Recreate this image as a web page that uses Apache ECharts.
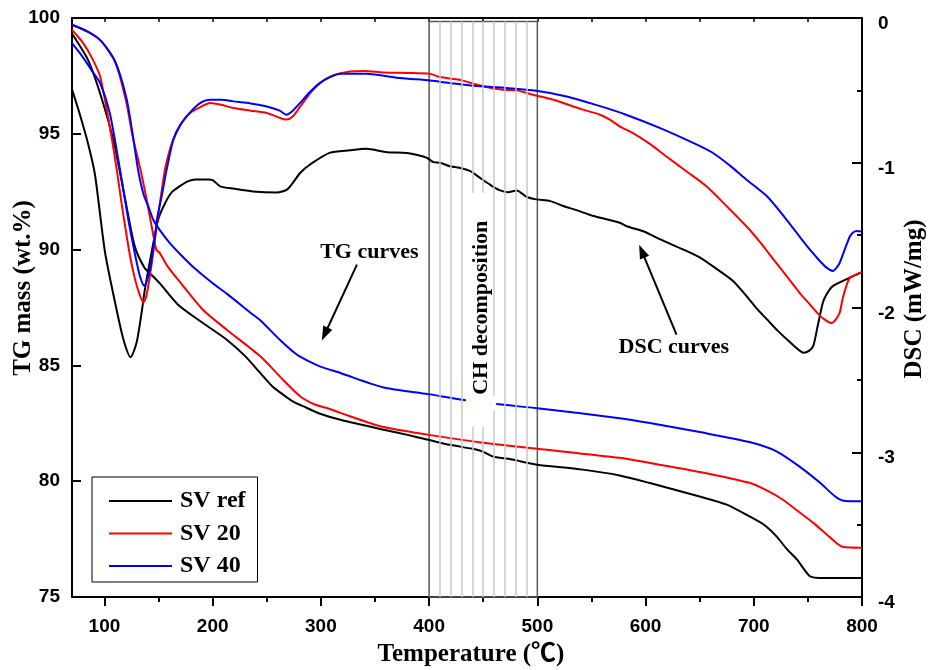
<!DOCTYPE html>
<html><head><meta charset="utf-8">
<script src="https://cdn.jsdelivr.net/npm/echarts@6/dist/echarts.min.js"></script>
<style>html,body{margin:0;padding:0;background:#fff}#c{width:933px;height:670px}</style>
</head><body><div id="c"></div>
<script>
// ---------- data ----------
const seriesNames = ['SV ref', 'SV 20', 'SV 40'];
const seriesColors = ['#000000', '#ff0000', '#0000ff'];
const xTickLabels = [100, 200, 300, 400, 500, 600, 700, 800];
const xMinorTicks = [150, 250, 350, 450, 550, 650, 750];
const xTopTicks = [100, 150, 200, 250, 300, 350, 400, 450, 500, 550, 600, 650, 700, 750, 800];
const chRegion = [400, 500];
const chLines = [410, 420, 430, 440, 450, 460, 470, 480, 490];

// TG curves [T (°C), mass (wt.%)]
const tgRef = [[70,99.32],[85,98.17],[97,96.59],[109,94.57],[119,92.2],[128,90.14],[137,89.22],[145,88.84],[151,88.55],[168,87.62],[191,86.83],[213,86.11],[230,85.4],[244,84.67],[255,84.1],[265,83.74],[274,83.45],[284,83.23],[300,82.9],[318,82.65],[358,82.22],[380,82.0],[400,81.78],[419,81.57],[440,81.4],[449,81.29],[459,81.07],[478,80.93],[490,80.8],[500,80.71],[542,80.5],[576,80.25],[604,79.92],[650,79.34],[675,78.99],[696,78.48],[710,78.1],[721,77.62],[730,77.1],[740,76.61],[748,76.1],[752,75.89],[761,75.82],[800,75.82]];
const tg20 = [[70,99.71],[85,99.4],[97,99.0],[110,98.1],[120,96.4],[126,94.9],[134,93.3],[139,92.15],[144,90.9],[148,89.99],[151,89.86],[158,89.3],[168,88.70],[191,87.40],[213,86.54],[244,85.39],[265,84.38],[281,83.66],[295,83.3],[305,83.17],[318,82.95],[357,82.35],[400,82.0],[450,81.66],[500,81.40],[576,81.01],[604,80.79],[650,80.40],[696,79.93],[712,79.6],[727,79.20],[741,78.7],[755,78.20],[773,77.47],[782,77.17],[800,77.13]];
const tg40 = [[70,99.71],[85,99.4],[97,99.0],[110,98.1],[120,96.6],[126,95.0],[131,93.45],[136,92.4],[140.5,91.87],[145,91.3],[151,90.85],[160,90.3],[170,89.8],[182,89.25],[200,88.55],[213,88.1],[237,87.2],[244,86.95],[262,86.11],[278,85.46],[290,85.15],[299,84.96],[318,84.67],[357,84.06],[399,83.76],[434,83.50],[462,83.33],[500,83.15],[576,82.72],[604,82.51],[650,82.12],[696,81.69],[721,81.29],[742,80.64],[761,79.94],[775,79.35],[782,79.17],[800,79.13]];

// DSC curves [T (°C), DSC (mW/mg)]
const dscRef = [[70.3,-0.50],[77,-0.66],[84.8,-0.867],[91.2,-1.081],[100.5,-1.618],[109.7,-1.962],[117.4,-2.217],[124.2,-2.343],[129.8,-2.238],[134.4,-2.031],[137.4,-1.873],[143.6,-1.618],[149.7,-1.391],[156,-1.28],[162.1,-1.205],[170,-1.16],[177.4,-1.127],[184,-1.115],[196,-1.115],[200,-1.12],[207,-1.163],[220,-1.18],[237,-1.198],[259,-1.205],[269,-1.184],[281,-1.069],[290,-1.012],[308,-0.932],[327,-0.914],[342,-0.904],[361,-0.927],[379,-0.932],[391,-0.950],[398,-0.966],[404,-0.996],[410,-1.0],[419,-1.024],[428,-1.035],[438,-1.058],[447,-1.104],[456,-1.150],[465,-1.189],[473,-1.203],[481,-1.191],[490,-1.235],[499,-1.253],[512,-1.265],[524,-1.299],[536,-1.327],[552,-1.368],[576,-1.414],[582,-1.437],[600,-1.48],[613,-1.528],[635,-1.60],[650,-1.654],[665,-1.73],[681,-1.818],[692,-1.91],[703,-2.01],[712,-2.08],[722,-2.16],[733,-2.237],[741,-2.29],[746,-2.313],[751,-2.30],[755,-2.265],[759,-2.13],[764,-1.962],[768,-1.90],[773,-1.852],[786,-1.804],[800,-1.756]];
const dsc20 = [[70,-0.083],[80,-0.17],[88,-0.27],[96,-0.404],[106,-0.80],[111.3,-1.046],[116,-1.29],[120.5,-1.506],[124,-1.66],[128.2,-1.804],[132,-1.90],[135.9,-1.964],[138,-1.94],[140.5,-1.850],[143,-1.73],[145.1,-1.620],[148,-1.45],[151.3,-1.276],[155.9,-1.046],[160,-0.92],[163.6,-0.840],[170,-0.74],[179,-0.656],[190,-0.61],[197.5,-0.587],[208,-0.60],[219,-0.622],[235,-0.64],[250,-0.656],[262,-0.69],[268,-0.702],[274,-0.68],[281,-0.611],[290,-0.52],[299,-0.450],[310,-0.40],[327,-0.370],[340,-0.366],[358,-0.377],[380,-0.38],[401,-0.386],[410,-0.408],[428,-0.427],[441,-0.454],[453,-0.477],[468,-0.496],[481,-0.50],[496,-0.530],[515,-0.565],[542,-0.633],[558,-0.668],[567,-0.702],[576,-0.748],[588,-0.794],[604,-0.87],[619,-0.955],[638,-1.06],[656,-1.161],[675,-1.30],[693,-1.437],[706,-1.55],[718,-1.666],[730,-1.78],[742,-1.895],[752,-1.98],[761,-2.056],[767,-2.09],[772,-2.107],[776,-2.08],[779.5,-2.033],[782,-1.941],[786,-1.84],[789,-1.792],[792,-1.781],[800,-1.754]];
const dsc40 = [[70,-0.174],[80,-0.27],[88,-0.36],[96,-0.450],[105,-0.66],[114.3,-1.046],[122,-1.391],[126,-1.55],[129.8,-1.689],[133,-1.79],[136.8,-1.850],[139,-1.82],[142.1,-1.735],[146.7,-1.506],[149,-1.37],[152.9,-1.230],[157.5,-1.046],[163.6,-0.840],[170,-0.74],[179,-0.654],[188,-0.59],[197.5,-0.565],[208,-0.565],[219,-0.576],[235,-0.59],[250,-0.611],[262,-0.64],[268,-0.668],[274,-0.64],[281,-0.585],[290,-0.51],[299,-0.450],[308,-0.41],[318,-0.386],[342,-0.386],[373,-0.415],[401,-0.432],[420,-0.45],[441,-0.468],[472,-0.484],[499,-0.503],[527,-0.542],[558,-0.609],[582,-0.668],[613,-0.759],[644,-0.863],[662,-0.931],[678,-1.02],[693,-1.115],[712,-1.230],[730,-1.391],[749,-1.575],[760,-1.67],[767,-1.723],[773,-1.747],[777,-1.72],[779.5,-1.689],[784,-1.60],[789,-1.506],[792,-1.48],[795,-1.471],[800,-1.475]];

// annotations in data coordinates (T, TG)
const tgArrow = {tail: [333.3, 89.35], tip: [300.9, 86.08]};
const dscArrow = {tail: [628.6, 86.33], tip: [594.1, 90.21]};
const tgLabelPos = [344.8, 89.89];
const dscLabelPos = [626.1, 85.76];
const chLabelPos = [448.3, 87.49];

// ---------- chart ----------
const serif = '"Liberation Serif", "Times New Roman", serif';
const serifBold = 'bold 25px "Liberation Serif", "Times New Roman", "Noto Sans CJK SC", serif';
const sans = '"Liberation Sans", Arial, sans-serif';
const chart = echarts.init(document.getElementById('c'), null, {renderer: 'canvas'});

function lineSeries(name, data, yIdx, color) {
  return {
    type: 'line', name: name, data: data, xAxisIndex: 0, yAxisIndex: yIdx,
    symbol: 'none', smooth: 0.25, z: 3,
    lineStyle: {color: color, width: 2}, itemStyle: {color: color},
    emphasis: {disabled: true}, silent: true
  };
}

const markLines = chLines.map(v => [{coord: [v, 75]}, {coord: [v, 99.85]}]);

const option = {
  animation: false,
  backgroundColor: '#fff',
  grid: {left: 72, right: 71, top: 18, bottom: 73, containLabel: false},
  legend: {
    data: seriesNames, orient: 'vertical', left: 92, top: 477,
    icon: 'rect', itemWidth: 63, itemHeight: 2,
    padding: [12, 12, 4, 17], itemGap: 8.5,
    borderColor: '#000', borderWidth: 1, backgroundColor: '#fff',
    selectedMode: false,
    textStyle: {fontFamily: serif, fontWeight: 'bold', fontSize: 24, color: '#000', lineHeight: 24, padding: [0, 0, 0, 3]}
  },
  xAxis: [
    {type: 'value', min: 70, max: 800, position: 'bottom',
      axisLine: {show: true, onZero: false, lineStyle: {color: '#000', width: 2}},
      axisTick: {show: true, customValues: xTickLabels, length: 9, lineStyle: {color: '#000', width: 2}},
      axisLabel: {customValues: xTickLabels, margin: 20, color: '#000', fontFamily: sans, fontWeight: 'bold', fontSize: 19},
      splitLine: {show: false}},
    {type: 'value', min: 70, max: 800, position: 'bottom',
      axisLine: {show: false, onZero: false},
      axisTick: {show: true, customValues: xMinorTicks, length: 5, lineStyle: {color: '#000', width: 2}},
      axisLabel: {show: false}, splitLine: {show: false}},
    {type: 'value', min: 70, max: 800, position: 'top',
      axisLine: {show: true, onZero: false, lineStyle: {color: '#000', width: 2}},
      axisTick: {show: true, inside: true, customValues: xTopTicks, length: 4, lineStyle: {color: '#000', width: 1.5}},
      axisLabel: {show: false}, splitLine: {show: false}}
  ],
  yAxis: [
    {type: 'value', min: 75, max: 100, interval: 5, position: 'left',
      axisLine: {show: true, onZero: false, lineStyle: {color: '#000', width: 2}},
      axisTick: {show: true, inside: true, length: 9, lineStyle: {color: '#000', width: 2}},
      axisLabel: {margin: 12, color: '#000', fontFamily: sans, fontWeight: 'bold', fontSize: 19},
      splitLine: {show: false}},
    {type: 'value', min: -4, max: 0, interval: 1, position: 'right',
      axisLine: {show: true, onZero: false, lineStyle: {color: '#000', width: 2}},
      axisTick: {show: true, inside: true, length: 10, lineStyle: {color: '#000', width: 2}},
      minorTick: {show: true, splitNumber: 2, length: 5, lineStyle: {color: '#000', width: 2}},
      axisLabel: {margin: 16, color: '#000', fontFamily: sans, fontWeight: 'bold', fontSize: 19, verticalAlign: 'top', lineHeight: 12},
      splitLine: {show: false}}
  ],
  series: [
    {type: 'line', name: '__ch', data: [], xAxisIndex: 0, yAxisIndex: 0, z: 1, silent: true,
      markArea: {silent: true, itemStyle: {color: 'rgba(0,0,0,0)', borderColor: '#5a5a5a', borderWidth: 1.5},
        data: [[{coord: [chRegion[0], 75]}, {coord: [chRegion[1], 99.85]}]]},
      markLine: {silent: true, symbol: ['none', 'none'], label: {show: false},
        lineStyle: {color: '#c8c8c8', width: 1.5, type: 'solid'}, data: markLines}},
    lineSeries(seriesNames[0], tgRef, 0, seriesColors[0]),
    lineSeries(seriesNames[0], dscRef, 1, seriesColors[0]),
    lineSeries(seriesNames[1], tg20, 0, seriesColors[1]),
    lineSeries(seriesNames[1], dsc20, 1, seriesColors[1]),
    lineSeries(seriesNames[2], tg40, 0, seriesColors[2]),
    lineSeries(seriesNames[2], dsc40, 1, seriesColors[2])
  ]
};
chart.setOption(option);

// ---------- annotations ----------
const P = p => chart.convertToPixel({xAxisIndex: 0, yAxisIndex: 0}, p);
function arrow(tailD, tipD) {
  const [x1, y1] = P(tailD), [x2, y2] = P(tipD);
  const dx = x2 - x1, dy = y2 - y1, L = Math.hypot(dx, dy);
  const ux = dx / L, uy = dy / L, hl = 14, hw = 5;
  const bx = x2 - ux * hl, by = y2 - uy * hl, px = -uy, py = ux;
  return [
    {type: 'line', z: 50, shape: {x1: x1, y1: y1, x2: bx + ux * 2, y2: by + uy * 2}, style: {stroke: '#000', lineWidth: 2}},
    {type: 'polygon', z: 50, shape: {points: [[x2, y2], [bx + px * hw, by + py * hw], [bx - px * hw, by - py * hw]]}, style: {fill: '#000'}}
  ];
}
function txt(x, y, text, font, rot) {
  return {type: 'text', x: x, y: y, rotation: rot || 0, z: 60,
    style: {text: text, x: 0, y: 0, font: font, fill: '#000', align: 'center', verticalAlign: 'middle', textAlign: 'center', textVerticalAlign: 'middle'}};
}
const r1a = P([434, 92.46]), r1b = P([457, 82.35]);
const r2a = P([457, 83.7]), r2b = P([462, 83.05]);
const chP = P(chLabelPos), tgP = P(tgLabelPos), dsP = P(dscLabelPos);
const labelFont = 'bold 22px ' + serif;
const graphics = [
  {type: 'rect', z: 40, shape: {x: r1a[0], y: r1a[1], width: r1b[0] - r1a[0], height: r1b[1] - r1a[1]}, style: {fill: '#fff'}},
  {type: 'rect', z: 40, shape: {x: r2a[0], y: r2a[1], width: r2b[0] - r2a[0], height: r2b[1] - r2a[1]}, style: {fill: '#fff'}},
  txt(chP[0], chP[1], 'CH decomposition', labelFont, Math.PI / 2),
  txt(tgP[0], tgP[1], 'TG curves', labelFont),
  txt(dsP[0], dsP[1], 'DSC curves', labelFont),
  ...arrow(tgArrow.tail, tgArrow.tip),
  ...arrow(dscArrow.tail, dscArrow.tip),
  txt(24, 288, 'TG mass (wt.%)', serifBold, Math.PI / 2),
  txt(915, 299, 'DSC (mW/mg)', serifBold, Math.PI / 2),
  txt(471, 655, 'Temperature (\u2103)', serifBold)
];
chart.setOption({graphic: {elements: graphics}});
</script></body></html>
